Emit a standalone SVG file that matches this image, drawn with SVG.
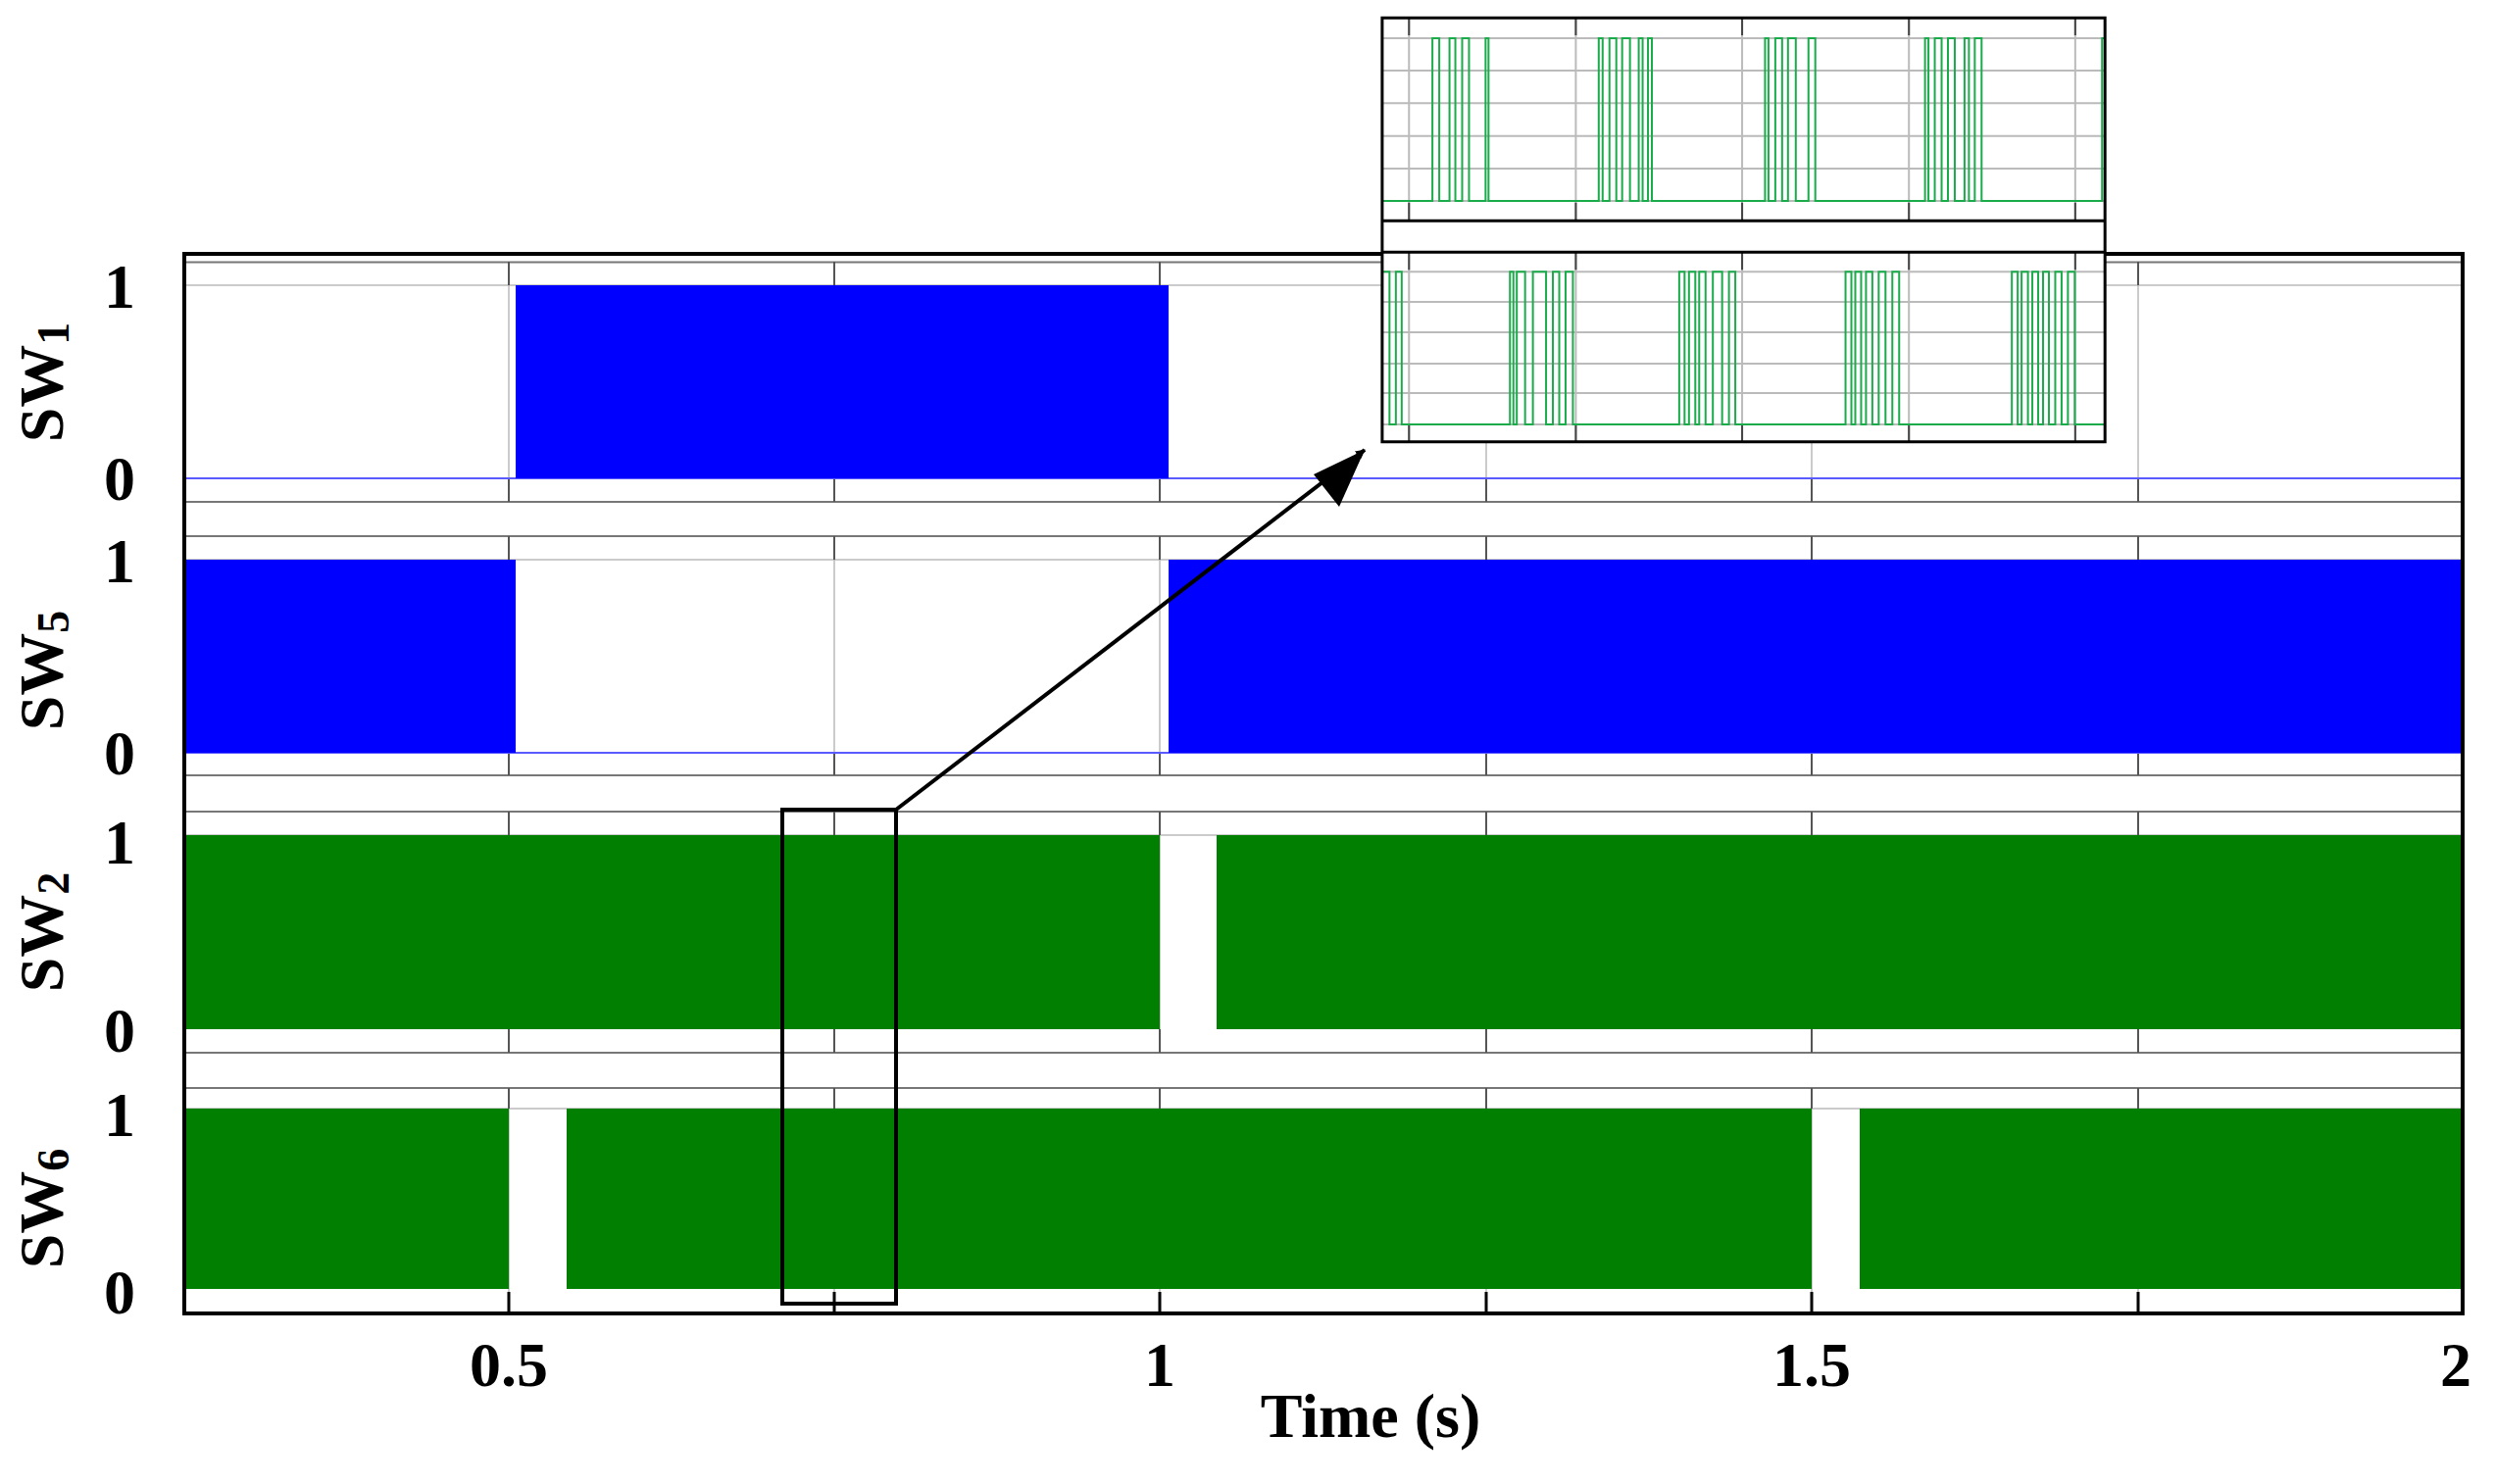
<svg xmlns="http://www.w3.org/2000/svg" width="2544" height="1514" viewBox="0 0 2544 1514">
<style>
.lab{font-family:"Liberation Serif",serif;font-weight:bold;font-size:64px;fill:#000}
.pl{stroke:#777;stroke-width:2;fill:none}
.gl{stroke:#bbb;stroke-width:1.5;fill:none}
.tk{stroke:#555;stroke-width:2;fill:none}
.gw{fill:none;stroke:#1aab4a;stroke-width:2;vector-effect:non-scaling-stroke}
.ig{stroke:#bbb;stroke-width:2;vector-effect:non-scaling-stroke}
.it{stroke:#444;stroke-width:2;vector-effect:non-scaling-stroke}
</style>
<defs>
<marker id="ah" markerWidth="10" markerHeight="10" refX="9" refY="5" orient="auto" markerUnits="userSpaceOnUse" viewBox="0 0 10 10">
<path d="M0,0 L10,5 L0,10 z" fill="#000"/>
</marker>
</defs>
<rect width="2544" height="1514" fill="#fff"/>
<g id="plot">
<g class="gl">
<path d="M519,267V512M851,267V512M1183,267V512M1516,267V512M1848,267V512M2181,267V512"/>
<path d="M519,547V791M851,547V791M1183,547V791M1516,547V791M1848,547V791M2181,547V791"/>
<path d="M519,828V1074M851,828V1074M1183,828V1074M1516,828V1074M1848,828V1074M2181,828V1074"/>
<path d="M519,1110V1340M851,1110V1340M1183,1110V1340M1516,1110V1340M1848,1110V1340M2181,1110V1340"/>
<path d="M188,291H2512M188,571H2512M188,852H2512M188,1131H2512"/>
</g>
<g class="pl">
<path d="M188,267.5H2512M188,512H2512M188,547H2512M188,791H2512M188,828H2512M188,1074H2512M188,1110H2512"/>
</g>
<g class="tk">
<path d="M519,267V291M851,267V291M1183,267V291M1516,267V291M1848,267V291M2181,267V291"/>
<path d="M519,488V512M851,488V512M1183,488V512M1516,488V512M1848,488V512M2181,488V512"/>
<path d="M519,547V571M851,547V571M1183,547V571M1516,547V571M1848,547V571M2181,547V571"/>
<path d="M519,768V791M851,768V791M1183,768V791M1516,768V791M1848,768V791M2181,768V791"/>
<path d="M519,828V852M851,828V852M1183,828V852M1516,828V852M1848,828V852M2181,828V852"/>
<path d="M519,1050V1074M851,1050V1074M1183,1050V1074M1516,1050V1074M1848,1050V1074M2181,1050V1074"/>
<path d="M519,1110V1131M851,1110V1131M1183,1110V1131M1516,1110V1131M1848,1110V1131M2181,1110V1131"/>
</g>
<g stroke="#000" stroke-width="3"><path d="M519,1318V1340M851,1318V1340M1183,1318V1340M1516,1318V1340M1848,1318V1340M2181,1318V1340"/></g>
</g>
<g id="sw1">
<path d="M188,488H2512" stroke="#5a5aff" stroke-width="2"/>
<rect x="526" y="291" width="666" height="197" fill="#0000ff"/>
<text class="lab" x="122" y="314" text-anchor="middle">1</text>
<text class="lab" x="122" y="510" text-anchor="middle">0</text>
<text class="lab" transform="translate(64,390) rotate(-90)" text-anchor="middle">SW<tspan font-size="46" dy="6">1</tspan></text>
</g>
<g id="sw5">
<path d="M188,768H2512" stroke="#5a5aff" stroke-width="2"/>
<rect x="188" y="571" width="338" height="197" fill="#0000ff"/>
<rect x="1192" y="571" width="1320" height="197" fill="#0000ff"/>
<text class="lab" x="122" y="594" text-anchor="middle">1</text>
<text class="lab" x="122" y="790" text-anchor="middle">0</text>
<text class="lab" transform="translate(64,684) rotate(-90)" text-anchor="middle">SW<tspan font-size="46" dy="6">5</tspan></text>
</g>
<g id="sw2">
<rect x="188" y="852" width="995" height="198" fill="#007f00"/>
<rect x="1241" y="852" width="1271" height="198" fill="#007f00"/>
<text class="lab" x="122" y="881" text-anchor="middle">1</text>
<text class="lab" x="122" y="1073" text-anchor="middle">0</text>
<text class="lab" transform="translate(64,951) rotate(-90)" text-anchor="middle">SW<tspan font-size="46" dy="6">2</tspan></text>
</g>
<g id="sw6">
<rect x="188" y="1131" width="331" height="184" fill="#007f00"/>
<rect x="578" y="1131" width="1270" height="184" fill="#007f00"/>
<rect x="1897" y="1131" width="615" height="184" fill="#007f00"/>
<text class="lab" x="122" y="1159" text-anchor="middle">1</text>
<text class="lab" x="122" y="1340" text-anchor="middle">0</text>
<text class="lab" transform="translate(64,1233) rotate(-90)" text-anchor="middle">SW<tspan font-size="46" dy="6">6</tspan></text>
</g>
<g id="frame">
<rect x="188" y="259" width="2324" height="1081" fill="none" stroke="#000" stroke-width="4"/>
</g>
<g id="xaxis">
<text class="lab" x="519" y="1414" text-anchor="middle">0.5</text>
<text class="lab" x="1183" y="1414" text-anchor="middle">1</text>
<text class="lab" x="1848" y="1414" text-anchor="middle">1.5</text>
<text class="lab" x="2505" y="1414" text-anchor="middle">2</text>
<text class="lab" x="1398" y="1466" text-anchor="middle">Time (s)</text>
</g>
<g id="connectors">
<rect x="798" y="826" width="116" height="504" fill="none" stroke="#000" stroke-width="4"/>
<path d="M914,826 L1392,459" stroke="#000" stroke-width="4" fill="none" marker-end="url(#ah)"/>
<path d="M1392,459 L1340,484 L1366,517 z" fill="#000"/>
</g>
<g id="inset">
<rect x="1410" y="18" width="737" height="433" fill="#fff"/>
<g transform="translate(1390,0) scale(0.4975,0.33333)">
<path class="ig" d="M42,117H1522M42,216H1522M42,316H1522M42,416H1522M42,516H1522M42,615H1522"/>
<path class="ig" d="M42,832H1522M42,924H1522M42,1017H1522M42,1113H1522M42,1203H1522M42,1299H1522"/>
<path class="ig" d="M95,55V676M437,55V676M778,55V676M1120,55V676M1461,55V676M95,772V1352M437,772V1352M778,772V1352M1120,772V1352M1461,772V1352"/>
<path class="it" d="M95,55V108M437,55V108M778,55V108M1120,55V108M1461,55V108M95,620V676M437,620V676M778,620V676M1120,620V676M1461,620V676"/>
<path class="it" d="M95,772V826M437,772V826M778,772V826M1120,772V826M1461,772V826M95,1300V1352M437,1300V1352M778,1300V1352M1120,1300V1352M1461,1300V1352"/>
<path class="gw" d="M42,615H143V117H157V615H178V117H190V615H204V117H218V615H252V117H258V615H484V117H492V615H506V117H520V615H532V117H548V615H566V117H574V615H585V117H593V615H825V117H832V615H846V117H860V615H872V117H888V615H914V117H928V615H1153V117H1160V615H1173V117H1187V615H1200V117H1214V615H1234V117H1243V615H1255V117H1269V615H1516V117H1522"/>
<path class="gw" d="M42,832H55V1299H68V832H80V1299H302V832H309V1299H316V832H333V1299H349V832H376V1299H390V832H403V1299H416V832H431V1299H649V832H660V1299H669V832H682V1299H690V832H703V1299H718V832H737V1299H751V832H764V1299H990V832H1002V1299H1010V832H1022V1299H1032V832H1045V1299H1058V832H1072V1299H1086V832H1100V1299H1331V832H1343V1299H1351V832H1364V1299H1373V832H1385V1299H1395V832H1407V1299H1420V832H1433V1299H1446V832H1460V1299H1522"/>
<path d="M40,676H1522M40,772H1522" stroke="#000" stroke-width="3" vector-effect="non-scaling-stroke"/>
<rect x="40" y="55" width="1482" height="1297" fill="none" stroke="#000" stroke-width="3" vector-effect="non-scaling-stroke"/>
</g>
</g>
</svg>
